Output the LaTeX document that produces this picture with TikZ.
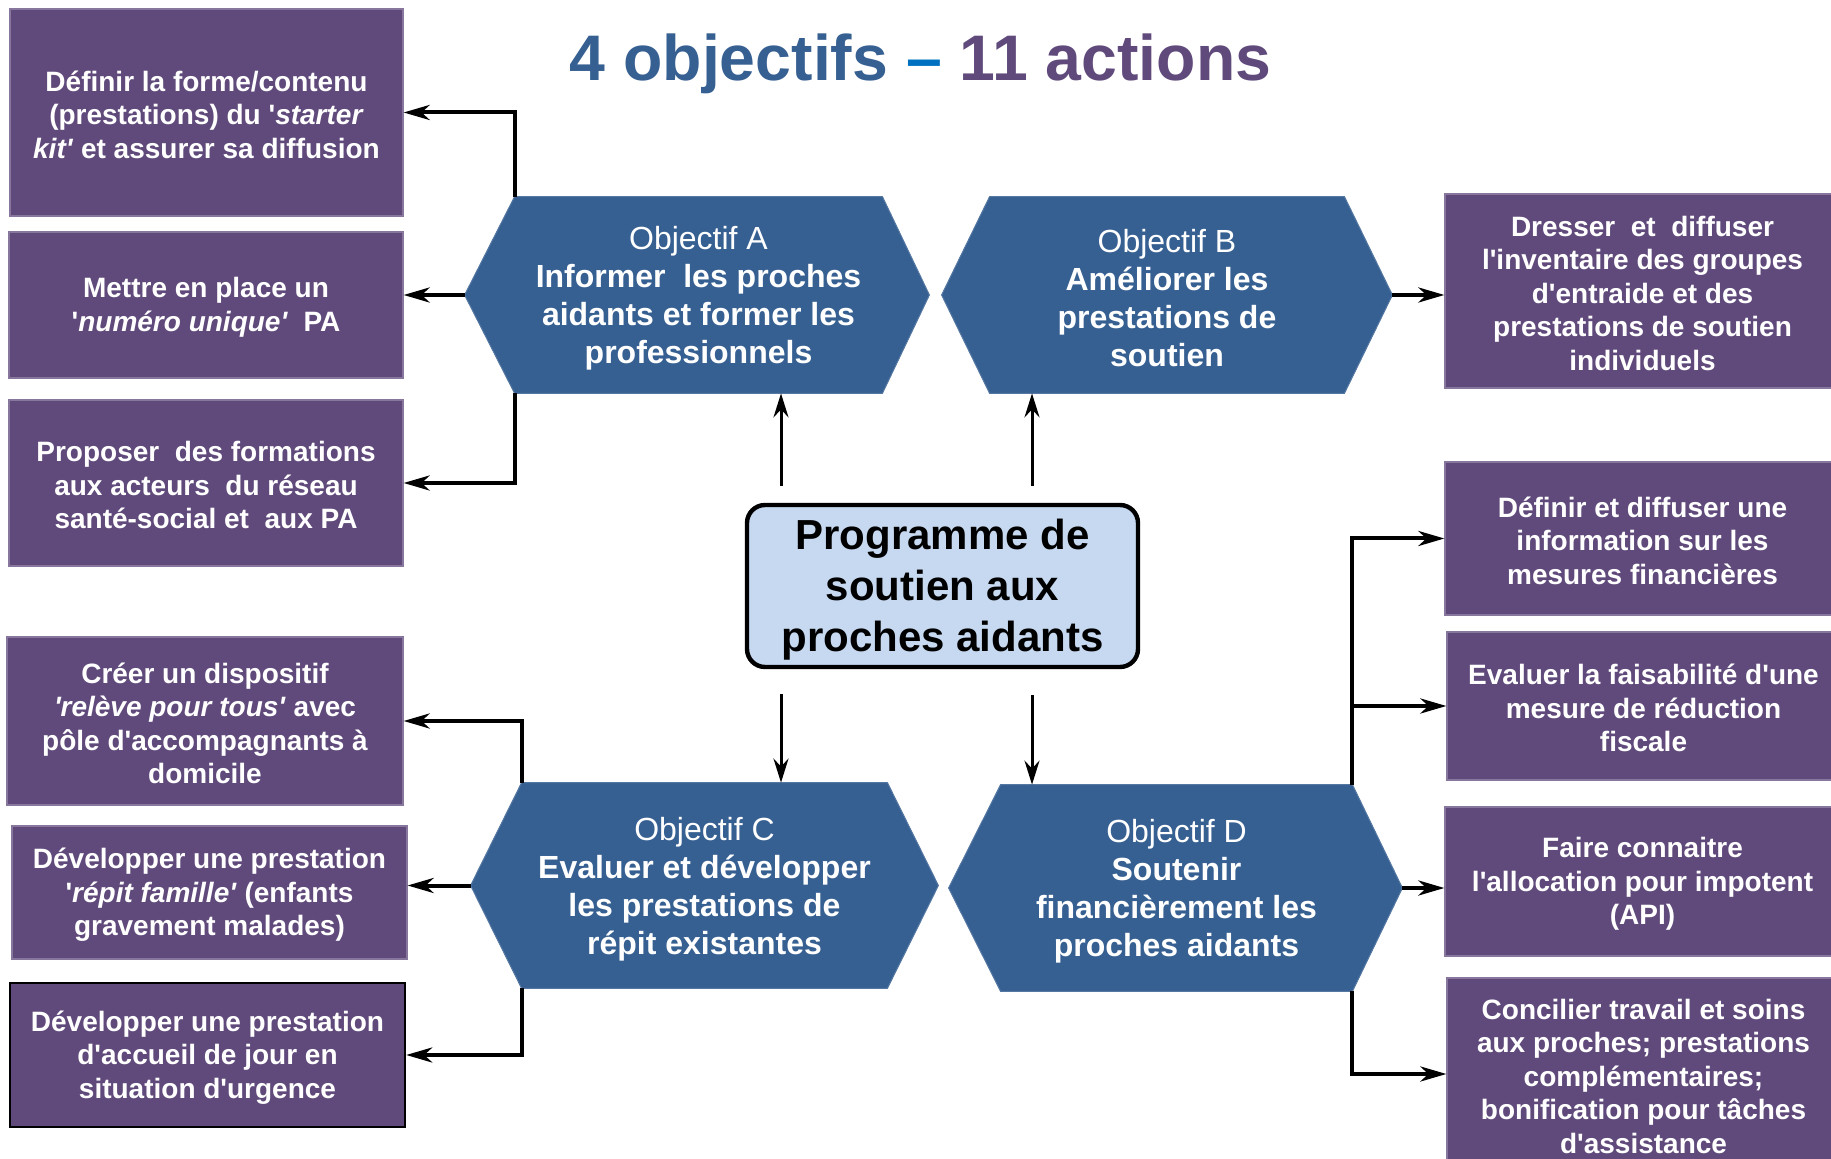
\documentclass[tikz,border=0pt]{standalone}
\usepackage{fontspec}
\setmainfont{Liberation Sans}[Ligatures=TeXOff]
\usetikzlibrary{arrows.meta,calc,backgrounds}
\definecolor{actpurple}{HTML}{604A7B}
\definecolor{objblue}{HTML}{376092}
\definecolor{progfill}{HTML}{C6D9F1}
\definecolor{dashblue}{HTML}{0070C0}
\begin{document}
\begin{tikzpicture}[x=0.5pt,y=-0.5pt,
  action/.style={fill=actpurple, draw=actpurple!75!white, line width=0.6pt, text=white, align=center, inner sep=0pt,
    font=\bfseries\fontsize{14}{16.75}\selectfont},
  objtext/.style={inner sep=0pt, text=white, align=center, font=\fontsize{16}{19}\selectfont},
  hexfill/.style={fill=objblue, draw=objblue!85!white, line width=0.5pt},
  prog/.style={fill=progfill, draw=black, line width=2.2pt, rounded corners=9pt, align=center, inner sep=0pt,
    font=\bfseries\fontsize{21}{25.5}\selectfont},
  conn/.style={draw=black, line width=2pt, -{Stealth[length=13pt,width=7.5pt,inset=4pt]}},
  conn2/.style={draw=black, line width=1.5pt, -{Stealth[length=12pt,width=7.5pt,inset=4pt]}}
]
\useasboundingbox (0,0) rectangle (1831,1159);

% title
\node[anchor=base, inner sep=0pt, font=\bfseries\fontsize{32.2}{36}\selectfont] (T) at (920.5,81)
  {\textcolor{objblue}{4 objectifs} \textcolor{dashblue}{–} \textcolor{actpurple}{11 actions}};

% objectives (hexagons)
\node[objtext, minimum width=183.5pt, minimum height=98pt] (A) at (698.5,295)
  {\rule{0pt}{15pt}Objectif A\\\textbf{Informer\ \ les proches}\\\textbf{aidants et former les}\\\textbf{professionnels}};
\node[objtext, minimum width=177pt, minimum height=98pt] (B) at (1167,295)
  {\rule{0pt}{15pt}Objectif B\\\textbf{Améliorer les}\\\textbf{prestations de}\\\textbf{soutien}};
\node[objtext, minimum width=182.5pt, minimum height=102.5pt] (C) at (704.5,885.5)
  {\rule{0pt}{15pt}Objectif C\\\textbf{Evaluer et développer}\\\textbf{les prestations de}\\\textbf{répit existantes}};
\node[objtext, minimum width=175.5pt, minimum height=103pt] (D) at (1176.5,888)
  {\rule{0pt}{15pt}Objectif D\\\textbf{Soutenir}\\\textbf{financièrement les}\\\textbf{proches aidants}};

\coordinate (A-w) at ($(A.west)+(-50,0)$);
\coordinate (A-e) at ($(A.east)+(47,0)$);
\coordinate (B-w) at ($(B.west)+(-48,0)$);
\coordinate (B-e) at ($(B.east)+(48,0)$);
\coordinate (C-w) at ($(C.west)+(-51,0)$);
\coordinate (C-e) at ($(C.east)+(51,0)$);
\coordinate (D-w) at ($(D.west)+(-52,0)$);
\coordinate (D-e) at ($(D.east)+(50,0)$);

\begin{scope}[on background layer]
  \foreach \h in {A,B,C,D}{
    \path[hexfill] (\h.north west) -- (\h.north east) -- (\h-e) -- (\h.south east)
      -- (\h.south west) -- (\h-w) -- cycle;
  }
\end{scope}

% central programme
\node[prog, minimum width=195.5pt, minimum height=81pt] (P) at (942.5,586)
  {\rule{0pt}{19pt}Programme de\\soutien aux\\proches aidants};

% left actions
\node[action, minimum width=196.5pt, minimum height=103.5pt] (L1) at (206.5,112.5)
  {\rule{0pt}{12.5pt}Définir la forme/contenu\\(prestations) du '\textit{starter}\\\textit{kit'} et assurer sa diffusion};
\node[action, minimum width=197pt, minimum height=73pt] (L2) at (206,305)
  {\rule{0pt}{12.5pt}Mettre en place un\\'\textit{numéro unique'}\ \ PA};
\node[action, minimum width=197pt, minimum height=83pt] (L3) at (206,483)
  {\rule{0pt}{12.5pt}Proposer\ \ des formations\\aux acteurs\ \ du réseau\\santé-social et\ \ aux PA};
\node[action, minimum width=198pt, minimum height=84pt] (L4) at (205,721)
  {\rule{0pt}{12.5pt}Créer un dispositif\\\textit{'relève pour tous'} avec\\pôle d'accompagnants à\\domicile};
\node[action, minimum width=197.5pt, minimum height=66.5pt] (L5) at (209.5,892.5)
  {\rule{0pt}{12.5pt}Développer une prestation\\'\textit{répit famille'} (enfants\\gravement malades)};
\node[action, draw=black, line width=1.2pt, minimum width=197.5pt, minimum height=72pt] (L6) at (207.5,1055)
  {\rule{0pt}{12.5pt}Développer une prestation\\d'accueil de jour en\\situation d'urgence};

% right actions
\node[action, minimum width=197.5pt, minimum height=97pt] (R1) at (1642.5,291)
  {\rule{0pt}{12.5pt}Dresser\ \ et\ \ diffuser\\l'inventaire des groupes\\d'entraide et des\\prestations de soutien\\individuels};
\node[action, minimum width=197.5pt, minimum height=76.5pt] (R2) at (1642.5,538.5)
  {\rule{0pt}{12.5pt}Définir et diffuser une\\information sur les\\mesures financières};
\node[action, minimum width=196.5pt, minimum height=74pt] (R3) at (1643.5,706)
  {\rule{0pt}{12.5pt}Evaluer la faisabilité d'une\\mesure de réduction\\fiscale};
\node[action, minimum width=197.5pt, minimum height=74.5pt] (R4) at (1642.5,881.5)
  {\rule{0pt}{12.5pt}Faire connaitre\\l'allocation pour impotent\\(API)};
\node[action, minimum width=196.5pt, minimum height=96pt] (R5) at (1643.5,1074)
  {\rule{0pt}{12.5pt}Concilier travail et soins\\aux proches; prestations\\complémentaires;\\bonification pour tâches\\d'assistance};

% connectors from objectives to actions
\draw[conn] (A.north west) |- (L1.east);
\draw[conn] (A-w) -- (A-w -| L2.east);
\draw[conn] (A.south west) |- (L3.east);
\draw[conn] (C.north west) |- (L4.east);
\draw[conn] (C-w) -- (C-w -| L5.east);
\draw[conn] (C.south west) |- (L6.east);
\draw[conn] (B-e) -- (B-e -| R1.west);
\draw[conn] (D.north east) |- (R2.west);
\draw[conn] (D.north east |- R3.west) -- (R3.west);
\draw[conn] (D-e) -- (D-e -| R4.west);
\draw[conn] (D.south east) |- (R5.west);

% connectors from programme to objectives
\coordinate (pa) at (781,586);
\coordinate (pb) at (1032,586);
\draw[conn2, shorten <=8.5pt] (P.north -| pa) -- (A.south -| pa);
\draw[conn2, shorten <=12.5pt] (P.south -| pa) -- (C.north -| pa);
\draw[conn2, shorten <=8.5pt] (P.north -| pb) -- (B.south -| pb);
\draw[conn2, shorten <=13pt] (P.south -| pb) -- (D.north -| pb);
\end{tikzpicture}
\end{document}
